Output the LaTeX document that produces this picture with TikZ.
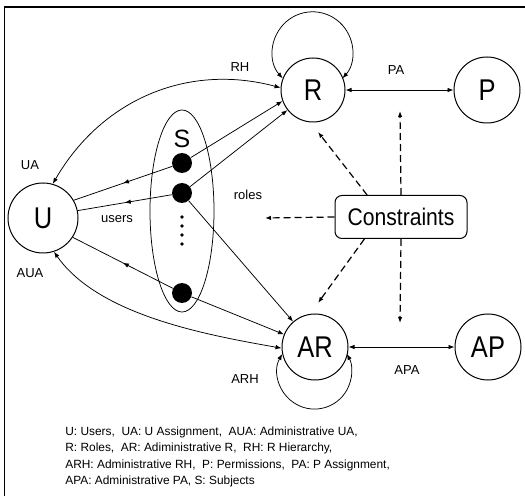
\documentclass[tikz,border=0pt]{standalone}
\usepackage{fontspec}
\setmainfont{Liberation Sans}
\usetikzlibrary{arrows.meta,shapes.geometric,decorations.markings}
\newcommand{\condensed}[1]{\scalebox{0.85}[1]{#1}}
\begin{document}
\begin{tikzpicture}[x=1pt,y=1pt,line width=0.75pt,
  tip/.style={-{Latex[length=6pt,width=4.5pt]}},
  dbl/.style={{Latex[length=6pt,width=4.5pt]}-{Latex[length=6pt,width=4.5pt]}},
  set/.style={draw,circle,line width=1pt,inner sep=0,font=\fontsize{30}{30}\selectfont},
  subj/.style={circle,fill,inner sep=0,minimum size=20pt},
  lbl/.style={font=\fontsize{13}{13}\selectfont},
  dasharr/.style={tip,dashed,dash pattern=on 7pt off 4pt,line width=1.2pt},
  midarrow/.style={postaction={decorate},decoration={markings,
    mark=at position 0.5 with {\arrow{Latex[length=6pt,width=4.5pt]}}}}]
  \useasboundingbox (0,0) rectangle (525,496);
  % frame
  \draw[line width=1.4pt] (4,489) -- (525,489);
  \draw[line width=1pt] (4,489) -- (4,0);
  % sets
  \node[set,minimum size=70pt] (U) at (43,278) {\condensed{U}};
  \node[set,minimum size=64pt] (R) at (313,406) {\condensed{R}};
  \node[set,minimum size=66pt] (P) at (487,406) {\condensed{P}};
  \node[set,minimum size=66pt] (AR) at (315,149) {\condensed{AR}};
  \node[set,minimum size=66pt] (AP) at (488,149) {\condensed{AP}};
  % subjects
  \node[draw,ellipse,minimum width=64pt,minimum height=202pt] (S) at (182,285) {};
  \node[font=\fontsize{25}{25}\selectfont] (Slbl) at (182,357) {S};
  \node[subj] (s1) at (182,333) {};
  \node[subj] (s2) at (182,303) {};
  \node[subj] (s3) at (182,203) {};
  \foreach \y in {279,270,261,252}
    \fill (182,\y) circle (1.9);
  % constraints
  \node[draw,rounded corners=7pt,line width=1pt,minimum width=132pt,minimum height=43pt,
    font=\fontsize{24}{24}\selectfont] (Cons) at (401,279) {\scalebox{0.88}[1]{Constraints}};
  \coordinate (cL) at (265,278);
  \coordinate (cR) at (318,364);
  \coordinate (cP) at (400,385);
  \coordinate (cAP) at (400,173);
  \coordinate (cAR) at (318,193);
  % assignments
  \draw[dbl] (U.74) to[out=60,in=165] (R.176);
  \draw[dbl] (U.-72) to[out=-55,in=170,looseness=0.8] (AR.182);
  \draw[dbl] (R) -- (P);
  \draw[dbl] (AR) -- (AP);
  \draw[dbl] (R.159) arc[start angle=221.6,end angle=-41.6,radius=40];
  \draw[dbl] (AR.192) arc[start angle=150.7,end angle=389.3,radius=37];
  % subjects to users and roles
  \draw[midarrow] (s1) -- (U.30);
  \draw[midarrow] (s2) -- (U.12);
  \draw[midarrow] (s3) -- (U.-33);
  \draw[tip] (s1) -- (R.200);
  \draw[tip] (s2) -- (R);
  \draw[tip] (s2) -- (AR);
  \draw[tip] (s3) -- (AR);
  % constraints
  \draw[dasharr] (Cons.west) -- (cL);
  \draw[dasharr] (Cons.147) -- (cR);
  \draw[dasharr] (Cons.north) -- (cP);
  \draw[dasharr] (Cons.south) -- (cAP);
  \draw[dasharr] (Cons.211) -- (cAR);
  % labels
  \node[lbl] (lRH) at (240,429) {RH};
  \node[lbl] (lPA) at (396,426) {PA};
  \node[lbl] (lUA) at (30,331) {UA};
  \node[lbl] (lusers) at (117,277) {users};
  \node[lbl] (lroles) at (248,301) {roles};
  \node[lbl] (lAUA) at (30,223) {AUA};
  \node[lbl] (lARH) at (245,117) {ARH};
  \node[lbl] (lAPA) at (407,126) {APA};
  \node[anchor=north west,align=left,inner sep=0,
    font=\fontsize{11.9}{16.5}\selectfont] (legend) at (65,70)
    {U: Users,~ UA: U Assignment,~ AUA: Administrative UA,\\
     R: Roles,~ AR: Adiministrative R,~ RH: R Hierarchy,\\
     ARH: Administrative RH,~ P: Permissions,~ PA: P Assignment,\\
     APA: Administrative PA, S: Subjects};
\end{tikzpicture}
\end{document}
